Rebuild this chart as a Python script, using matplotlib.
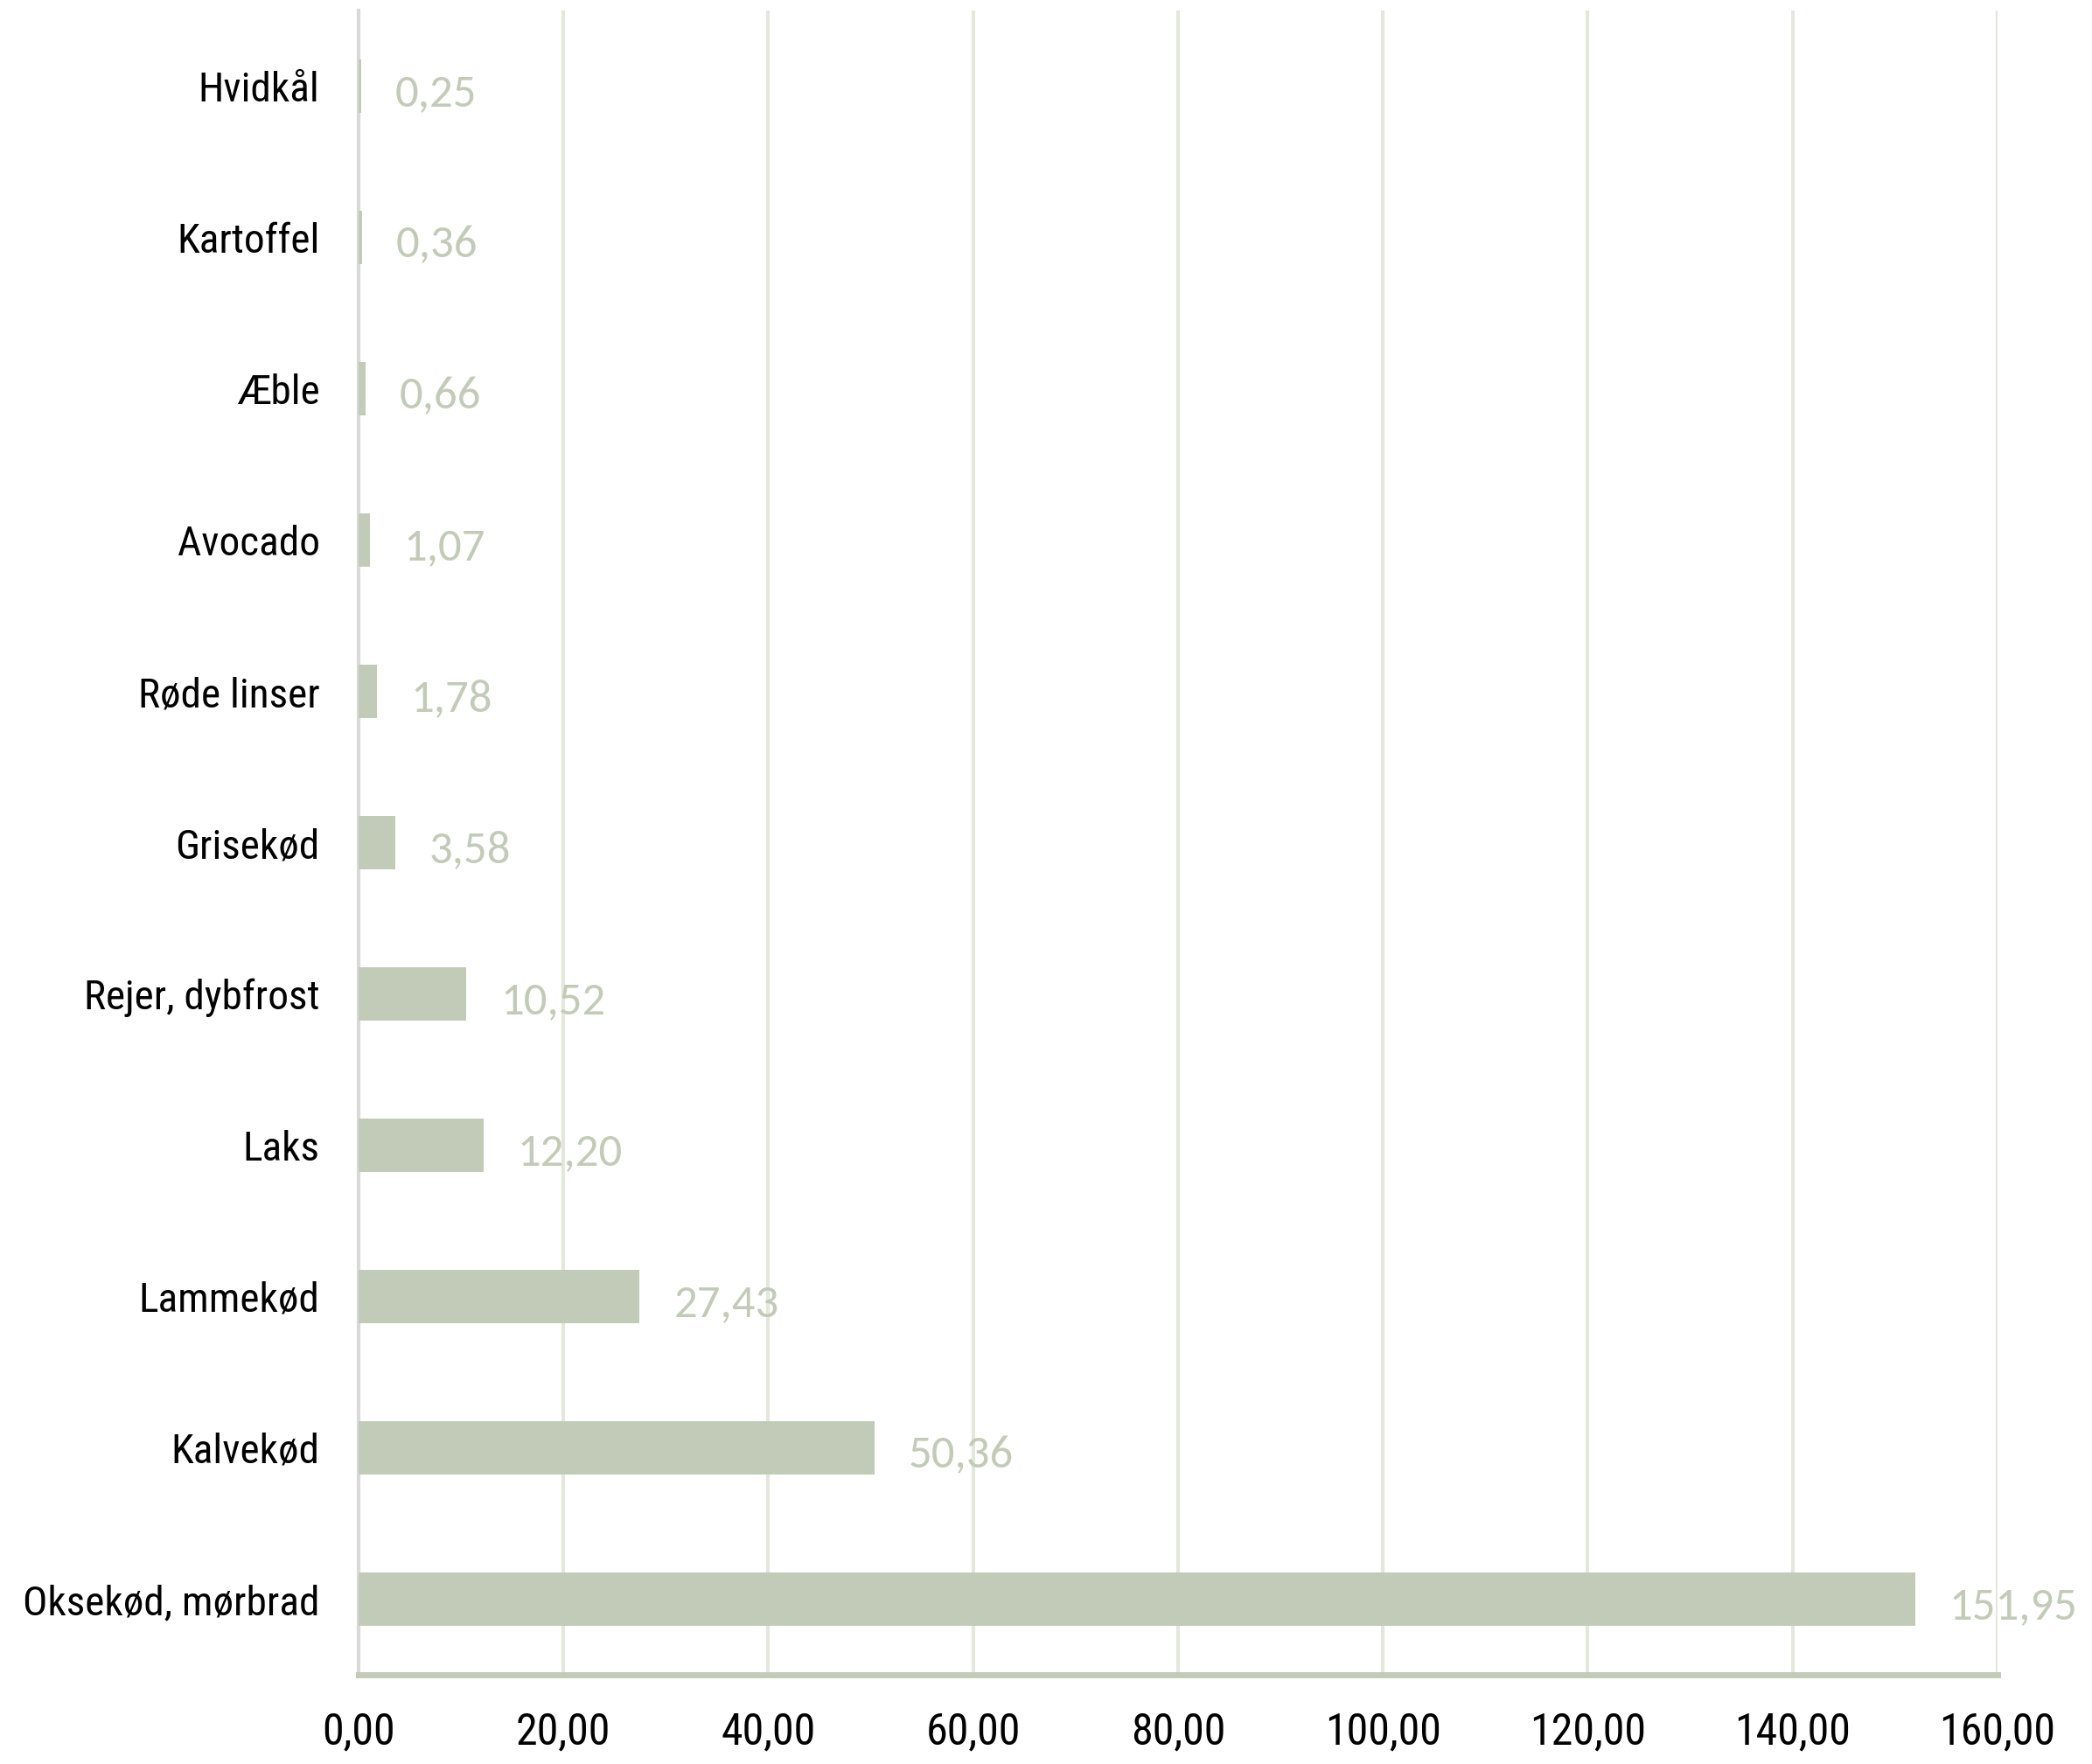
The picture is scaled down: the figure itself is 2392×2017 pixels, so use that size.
import matplotlib
matplotlib.use("Agg")
import matplotlib.pyplot as plt
from matplotlib import font_manager

# data, top to bottom
foods = ["Hvidkål", "Kartoffel", "Æble", "Avocado", "Røde linser", "Grisekød",
         "Rejer, dybfrost", "Laks", "Lammekød", "Kalvekød", "Oksekød, mørbrad"]
values = [0.25, 0.36, 0.66, 1.07, 1.78, 3.58, 10.52, 12.20, 27.43, 50.36, 151.95]
xticks = [0, 20, 40, 60, 80, 100, 120, 140, 160]

BAR = "#C2CBB8"
GRID = "#E4E7DC"

installed = {f.name for f in font_manager.fontManager.ttflist}


def pick(cands):
    for c in cands:
        if c in installed:
            return c
    return "DejaVu Sans"


narrow = pick(["Liberation Sans Narrow", "DejaVu Sans Condensed", "Roboto Condensed"])
label_font = pick(["Carlito", "Lato", "Open Sans"])

fig = plt.figure(figsize=(23.92, 20.17), dpi=100)
ax = fig.add_axes([0.1714, 0.0506, 0.7834, 0.9434])

ypos = list(range(len(foods)))
ax.barh(ypos, values, height=0.35, color=BAR, zorder=3)

for y, v in zip(ypos, values):
    ax.annotate("{:.2f}".format(v).replace(".", ","), (v, y),
                xytext=(28, -6), textcoords="offset points",
                ha="left", va="center", fontsize=38, color=BAR,
                family=[label_font, "DejaVu Sans"], zorder=4,
                annotation_clip=False)

ax.set_xlim(0, 160)
ax.set_ylim(len(foods) - 0.5, -0.5)
ax.set_xticks(xticks)
ax.set_xticklabels(["{:.2f}".format(t).replace(".", ",") for t in xticks],
                   family=[narrow, "DejaVu Sans"], fontsize=36)
ax.set_yticks(ypos)
ax.set_yticklabels(foods, family=[narrow, "DejaVu Sans"], fontsize=34)
ax.tick_params(axis="x", length=0, pad=30)
ax.tick_params(axis="y", length=0, pad=32)

ax.grid(axis="x", color=GRID, linewidth=3, zorder=0)
ax.set_axisbelow(True)

for s in ["top", "right"]:
    ax.spines[s].set_visible(False)
ax.spines["left"].set_color("#D9D9D9")
ax.spines["left"].set_linewidth(3)
ax.spines["bottom"].set_color(BAR)
ax.spines["bottom"].set_linewidth(5)

fig.savefig("out.png", dpi=100)
